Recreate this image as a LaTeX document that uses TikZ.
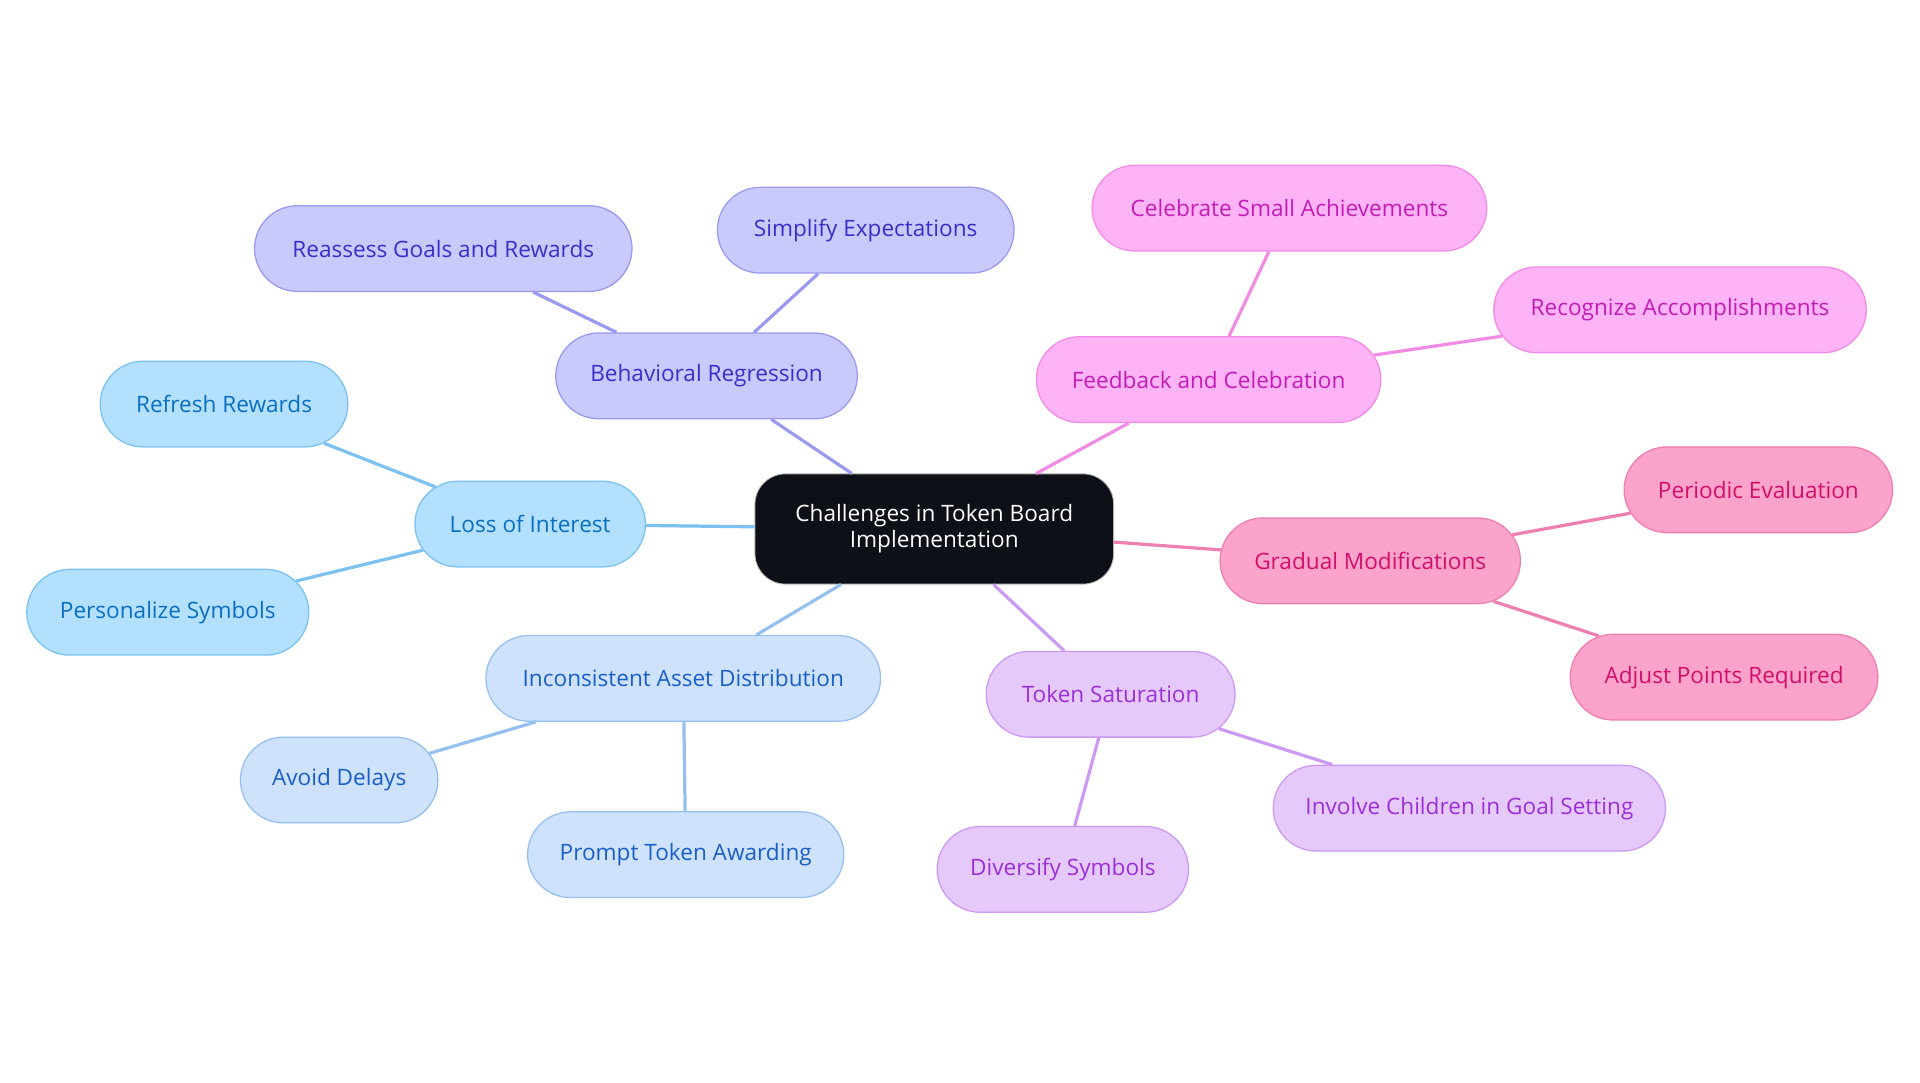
\documentclass[tikz,border=0pt]{standalone}
\usepackage{fontspec}
\setmainfont{Open Sans}
\usetikzlibrary{shapes.misc}
\definecolor{rootfill}{HTML}{0D1117}
\definecolor{bluefill}{HTML}{B3E0FF}\definecolor{bluedraw}{HTML}{7CC1F0}\definecolor{bluetext}{HTML}{0B6FC0}
\definecolor{skyfill}{HTML}{CFE2FB}\definecolor{skydraw}{HTML}{96C0EE}\definecolor{skytext}{HTML}{1A5FC9}
\definecolor{indfill}{HTML}{C9C9FC}\definecolor{inddraw}{HTML}{9A9AF0}\definecolor{indtext}{HTML}{3A2FC9}
\definecolor{magfill}{HTML}{FDB3F5}\definecolor{magdraw}{HTML}{F28BE3}\definecolor{magtext}{HTML}{C21EB5}
\definecolor{pinkfill}{HTML}{FCA3CB}\definecolor{pinkdraw}{HTML}{EE7FB1}\definecolor{pinktext}{HTML}{D0106A}
\definecolor{lavfill}{HTML}{E6C9FB}\definecolor{lavdraw}{HTML}{CC9AF2}\definecolor{lavtext}{HTML}{9B30D9}
\tikzset{
    leaf/.style={rounded rectangle, minimum height=1.4cm, font=\fontsize{10.5}{12}\selectfont, line width=0.6pt},
    blue/.style={leaf, fill=bluefill, draw=bluedraw, text=bluetext},
    sky/.style={leaf, fill=skyfill, draw=skydraw, text=skytext},
    ind/.style={leaf, fill=indfill, draw=inddraw, text=indtext},
    mag/.style={leaf, fill=magfill, draw=magdraw, text=magtext},
    pink/.style={leaf, fill=pinkfill, draw=pinkdraw, text=pinktext},
    lav/.style={leaf, fill=lavfill, draw=lavdraw, text=lavtext},
    root/.style={rectangle, rounded corners=0.5cm, fill=rootfill, draw=gray!60, text=white, align=center,
        minimum width=5.86cm, minimum height=1.8cm, font=\fontsize{10.5}{12}\selectfont},
    link/.style={line width=1.5pt}
}
\begin{document}
\begin{tikzpicture}[x=0.02cm, y=-0.02cm]
\useasboundingbox (0,0) rectangle (1568,884);
% root
\node[root] (root) at (763,432) {Challenges in Token Board\\Implementation};

% branches
\node[ind, minimum width=5.16cm] (regress) at (577,307) {Behavioral Regression};
\node[ind, minimum width=6.4cm] (reassess) at (362,203) {Reassess Goals and Rewards};
\node[ind, minimum width=5.08cm] (simplify) at (707,188) {Simplify Expectations};

\node[blue, minimum width=4cm] (interest) at (433,428) {Loss of Interest};
\node[blue, minimum width=4.28cm] (refresh) at (183,330) {Refresh Rewards};
\node[blue, minimum width=4.84cm] (personal) at (137,500) {Personalize Symbols};

\node[sky, minimum width=6.68cm] (asset) at (558,554) {Inconsistent Asset Distribution};
\node[sky, minimum width=3.46cm] (delays) at (277,637) {Avoid Delays};
\node[sky, minimum width=5.4cm] (prompt) at (560,698) {Prompt Token Awarding};

\node[lav, minimum width=4.3cm] (saturate) at (907,567) {Token Saturation};
\node[lav, minimum width=4.34cm] (diversify) at (868,710) {Diversify Symbols};
\node[lav, minimum width=6.64cm] (involve) at (1200,660) {Involve Children in Goal Setting};

\node[pink, minimum width=5.14cm] (gradual) at (1119,458) {Gradual Modifications};
\node[pink, minimum width=4.62cm] (periodic) at (1436,400) {Periodic Evaluation};
\node[pink, minimum width=5.26cm] (adjust) at (1408,553) {Adjust Points Required};

\node[mag, minimum width=5.86cm] (feedback) at (987,310) {Feedback and Celebration};
\node[mag, minimum width=6.68cm] (celebrate) at (1053,170) {Celebrate Small Achievements};
\node[mag, minimum width=6.32cm] (recognize) at (1372,253) {Recognize Accomplishments};

% links
\begin{scope}[on background layer/.style={}]
\draw[link, draw=inddraw] (root) -- (regress);
\draw[link, draw=inddraw] (regress) -- (reassess);
\draw[link, draw=inddraw] (regress) -- (simplify);
\draw[link, draw=bluedraw] (root) -- (interest);
\draw[link, draw=bluedraw] (interest) -- (refresh);
\draw[link, draw=bluedraw] (interest) -- (personal);
\draw[link, draw=skydraw] (root) -- (asset);
\draw[link, draw=skydraw] (asset) -- (delays);
\draw[link, draw=skydraw] (asset) -- (prompt);
\draw[link, draw=lavdraw] (root) -- (saturate);
\draw[link, draw=lavdraw] (saturate) -- (diversify);
\draw[link, draw=lavdraw] (saturate) -- (involve);
\draw[link, draw=pinkdraw] (root) -- (gradual);
\draw[link, draw=pinkdraw] (gradual) -- (periodic);
\draw[link, draw=pinkdraw] (gradual) -- (adjust);
\draw[link, draw=magdraw] (root) -- (feedback);
\draw[link, draw=magdraw] (feedback) -- (celebrate);
\draw[link, draw=magdraw] (feedback) -- (recognize);
\end{scope}
\end{tikzpicture}
\end{document}
